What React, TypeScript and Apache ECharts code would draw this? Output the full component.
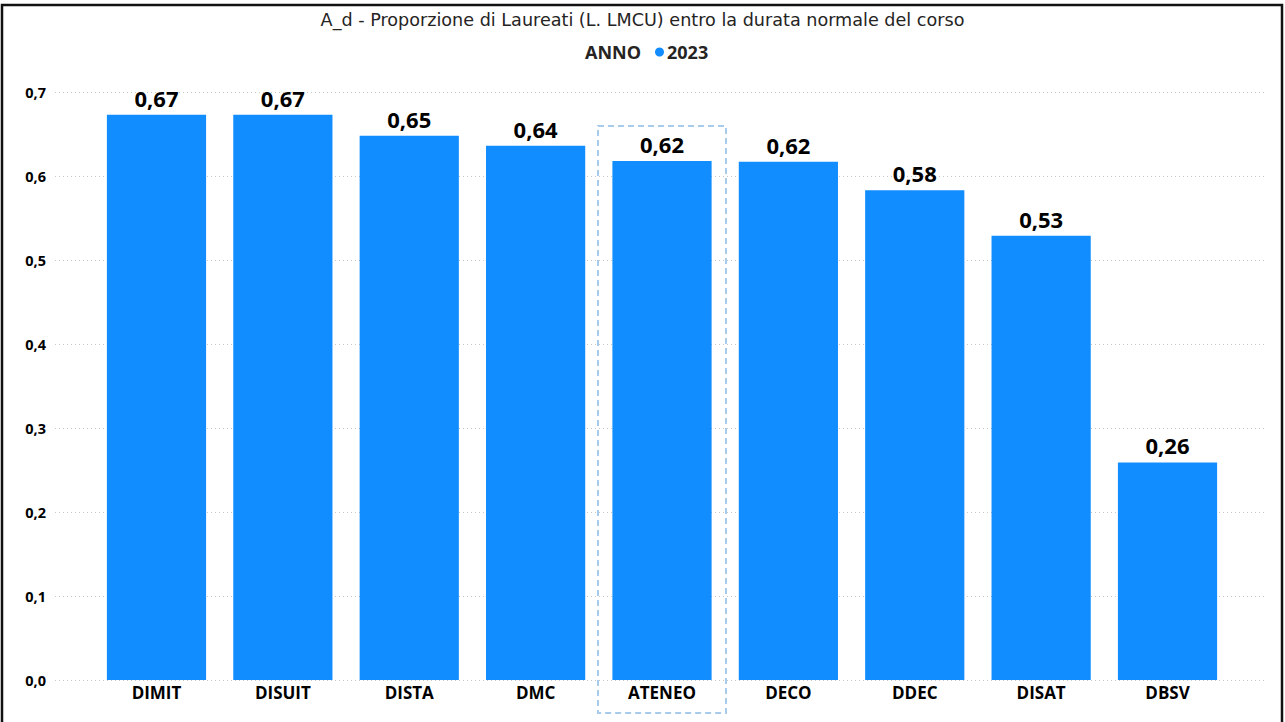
import React, { useEffect, useRef } from "react";
import * as echarts from "echarts";

const categories = ["DIMIT", "DISUIT", "DISTA", "DMC", "ATENEO", "DECO", "DDEC", "DISAT", "DBSV"];
const values2023 = [0.673, 0.673, 0.648, 0.636, 0.618, 0.617, 0.583, 0.529, 0.259];
const seriesName = "2023";
const legendTitle = "ANNO";
const chartTitle = "A_d - Proporzione di Laureati (L. LMCU) entro la durata normale del corso";
const highlighted = "ATENEO";

const FONT = "'Open Sans', 'Noto Sans', sans-serif";
const BLUE = "#118DFF";

export default function App() {
  const ref = useRef<HTMLDivElement>(null);
  useEffect(() => {
    document.body.style.margin = "0";
    const chart = echarts.init(ref.current!, null, { renderer: "svg" });
    const yFmt = (v: number) => v.toFixed(1).replace(".", ",");
    chart.setOption({
      animation: false,
      backgroundColor: "#fff",
      title: {
        text: chartTitle,
        left: "center",
        top: 6,
        textStyle: {
          fontFamily: "'DejaVu Sans', sans-serif",
          fontSize: 17.6,
          fontWeight: "normal",
          color: "#252423",
        },
      },
      legend: {
        data: [seriesName],
        left: 650,
        top: 38,
        icon: "circle",
        itemWidth: 9,
        itemHeight: 9,
        itemGap: 4,
        textStyle: { fontFamily: FONT, fontSize: 18, fontWeight: "bold", color: "#252423", padding: [0, 0, 0, -2] },
      },
      grid: [
        { left: 55, right: 18, top: 92, bottom: 42 },
        { left: 93.3, right: 54.3, top: 92, bottom: 42 },
      ],
      xAxis: [
        { type: "category", gridIndex: 0, data: categories, show: false },
        {
          type: "category",
          gridIndex: 1,
          data: categories,
          axisLine: { show: false },
          axisTick: { show: false },
          axisLabel: { fontFamily: FONT, fontSize: 17, fontWeight: "bold", color: "#000", margin: 4 },
        },
      ],
      yAxis: [
        {
          type: "value",
          gridIndex: 0,
          min: 0,
          max: 0.7,
          interval: 0.1,
          axisLine: { show: false },
          axisTick: { show: false },
          axisLabel: { formatter: yFmt, fontFamily: FONT, fontSize: 14.5, fontWeight: "bold", color: "#000", margin: 9 },
          splitLine: { show: true, lineStyle: { type: [1, 3], color: "#c8c8c8", width: 1 } },
        },
        {
          type: "value",
          gridIndex: 1,
          min: 0,
          max: 0.7,
          interval: 0.1,
          show: false,
          splitLine: { show: false },
        },
      ],
      series: [
        {
          name: seriesName,
          type: "bar",
          xAxisIndex: 1,
          yAxisIndex: 1,
          data: values2023,
          barWidth: "78.5%",
          itemStyle: { color: BLUE },
          label: {
            show: true,
            position: "top",
            distance: 6,
            formatter: (p: any) => p.value.toFixed(2).replace(".", ","),
            fontFamily: FONT,
            fontSize: 22,
            fontWeight: "bold",
            color: "#000",
          },
        },
      ],
    });
    const idx = categories.indexOf(highlighted);
    const [cx, cy] = chart.convertToPixel({ xAxisIndex: 1, yAxisIndex: 1 }, [idx, values2023[idx]]);
    const [, y0] = chart.convertToPixel({ xAxisIndex: 1, yAxisIndex: 1 }, [idx, 0]);
    chart.setOption({
      graphic: [
        {
          type: "rect",
          shape: { x: 2, y: 5, width: 1280, height: 730 },
          style: { fill: "none", stroke: "#111", lineWidth: 2.5 },
          silent: true,
        },
        {
          type: "text",
          style: {
            text: legendTitle,
            x: 641,
            y: 52,
            align: "right",
            verticalAlign: "middle",
            font: `bold 18px ${FONT}`,
            fill: "#252423",
          },
        },
        {
          type: "rect",
          shape: { x: cx - 64, y: cy - 35, width: 128, height: y0 - cy + 68 },
          style: { fill: "none", stroke: "#a8cbec", lineWidth: 2, lineDash: [6, 4] },
          silent: true,
        },
      ],
    });
    return () => chart.dispose();
  }, []);
  return <div ref={ref} style={{ position: "absolute", left: 0, top: 0, width: 1285, height: 722 }} />;
}
